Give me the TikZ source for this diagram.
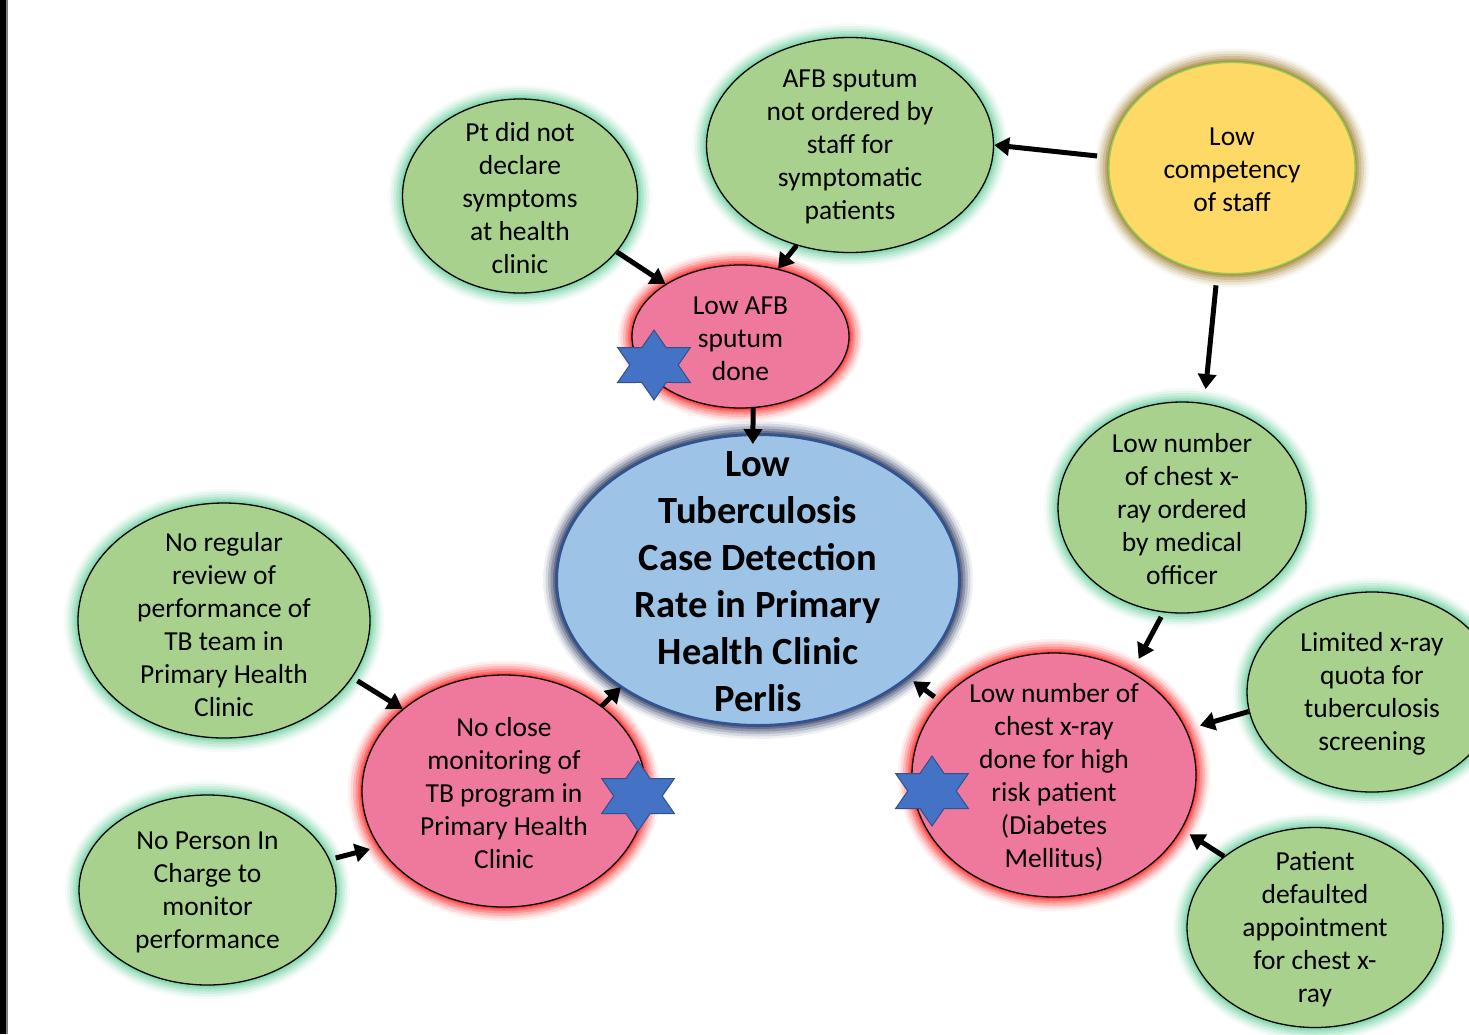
\documentclass[tikz,border=0pt]{standalone}
\usepackage{fontspec}
\setmainfont{Carlito}
\usetikzlibrary{shapes.geometric, arrows.meta}

\definecolor{grnfill}{HTML}{A9D18E}
\definecolor{grnglow}{HTML}{6FD3A0}
\definecolor{pnkfill}{HTML}{EE799D}
\definecolor{pnkglow}{HTML}{FF2A2A}
\definecolor{ylwfill}{HTML}{FFD966}
\definecolor{ylwline}{HTML}{92D050}
\definecolor{ylwglow}{HTML}{A08030}
\definecolor{blufill}{HTML}{9DC3E6}
\definecolor{bluline}{HTML}{2F5597}
\definecolor{bluglow}{HTML}{1F2F5A}
\definecolor{starfill}{HTML}{4472C4}
\definecolor{starline}{HTML}{2F528F}

\begin{document}
\begin{tikzpicture}[x=1pt, y=-1pt,
  every label/.style={align=center, text=black, yshift=-2pt, font=\fontsize{27.5}{33}\selectfont},
  ttlsty/.style={font=\bfseries\fontsize{38.5}{47}\selectfont},
  esize/.style 2 args={minimum width=2*#1, minimum height=2*#2},
  bubble/.style={ellipse, draw=black, line width=1.3pt, inner sep=0pt},
  glow/.style={preaction={draw=#1, line width=28pt, draw opacity=.07},
               preaction={draw=#1, line width=23pt, draw opacity=.12},
               preaction={draw=#1, line width=18pt, draw opacity=.18},
               preaction={draw=#1, line width=13pt, draw opacity=.26},
               preaction={draw=#1, line width=8pt, draw opacity=.36},
               preaction={draw=#1, line width=4pt, draw opacity=.5}},
  grnsty/.style={bubble, fill=grnfill, glow=grnglow},
  pnksty/.style={bubble, fill=pnkfill, glow=pnkglow},
  ylwsty/.style={bubble, fill=ylwfill, draw=ylwline, glow=ylwglow},
  blusty/.style={bubble, fill=blufill, draw=bluline, line width=2pt, glow=bluglow},
  arrsty/.style={line width=5pt, -{Triangle[width=18pt,length=15pt]}},
  hexstar/.pic={
    \filldraw[fill=starfill, draw=starline, line width=1pt, x=42pt, y=35pt]
      (90:1) -- (120:.577) -- (150:1) -- (180:.577) -- (210:1) -- (240:.577)
      -- (270:1) -- (300:.577) -- (330:1) -- (0:.577) -- (30:1) -- (60:.577) -- cycle;
  }
]
\useasboundingbox (0,0) rectangle (1469,1034);
\fill[white] (0,0) rectangle (1469,1034);
\fill[black] (0,0) rectangle (6,1034);
\fill[gray] (6,0) rectangle (7.5,1034);

% causes on top
\node[grnsty, esize={117.5}{97}, label={center:{Pt did not\\declare\\symptoms\\at health\\clinic}}] (pt) at (520,196) {};
\node[grnsty, esize={143.5}{107.5}, label={center:{AFB sputum\\not ordered by\\staff for\\symptomatic\\patients}}] (afbnot) at (850,145) {};
\node[ylwsty, esize={123}{105.5}, label={center:{Low\\competency\\of staff}}] (comp) at (1232,168) {};
\node[pnksty, esize={108.5}{71.5}, label={center:{Low AFB\\sputum\\done}}] (lowafb) at (740.5,336.5) {};

% main problem
\node[blusty, esize={201}{145}, label={[ttlsty]center:{Low\\Tuberculosis\\Case Detection\\Rate in Primary\\Health Clinic\\Perlis}}] (tbcdr) at (758,580) {};

% right side
\node[grnsty, esize={124}{105.5}, label={center:{Low number\\of chest x-\\ray ordered\\by medical\\officer}}] (xrord) at (1182,507.5) {};
\node[grnsty, esize={125}{100}, label={center:{Limited x-ray\\quota for\\tuberculosis\\screening}}] (quota) at (1372,692) {};
\node[pnksty, esize={142}{122}, label={center:{Low number of\\chest x-ray\\done for high\\risk patient\\(Diabetes\\Mellitus)}}] (xrdone) at (1054,775) {};
\node[grnsty, esize={128}{100}, label={center:{Patient\\defaulted\\appointment\\for chest x-\\ray}}] (dflt) at (1315,927.5) {};

% left side
\node[grnsty, esize={146}{117.5}, label={[yshift=-2pt]center:{No regular\\review of\\performance of\\TB team in\\Primary Health\\Clinic}}] (review) at (224,620.5) {};
\node[pnksty, esize={142}{116}, label={center:{No close\\monitoring of\\TB program in\\Primary Health\\Clinic}}] (monit) at (504,791) {};
\node[grnsty, esize={128.5}{95}, label={center:{No Person In\\Charge to\\monitor\\performance}}] (pic) at (207.5,890) {};

% root cause markers
\pic at (654,365) {hexstar};
\pic at (638,796) {hexstar};
\pic at (932,791) {hexstar};

\draw[arrsty] (pt.-30) -- (lowafb.145);
\draw[arrsty] (afbnot.-118) -- (lowafb.61);
\draw[arrsty, shorten <=12pt] (comp.175) -- (afbnot.0);
\draw[arrsty, shorten <=12pt, shorten >=14pt] (comp.-98) -- (xrord.78);
\draw[arrsty, shorten >=-10pt] (lowafb.-80) -- (tbcdr.92);
\draw[arrsty, shorten <=5pt, shorten >=15pt] (xrord.-100) -- (xrdone.53);
\draw[arrsty, shorten >=14pt] (quota.-171) -- (xrdone.19);
\draw[arrsty, shorten >=9pt] (dflt.142) -- (xrdone.-23);
\draw[arrsty, shorten <=7pt, shorten >=6pt] (xrdone.147) -- (tbcdr.-33);
\draw[arrsty, shorten <=6pt] (review.-24) -- (monit.141);
\draw[arrsty, shorten <=6pt, shorten >=9pt] (pic.14) -- (monit.-156);
\draw[arrsty] (monit.41) -- (tbcdr.-142);

\end{tikzpicture}
\end{document}
